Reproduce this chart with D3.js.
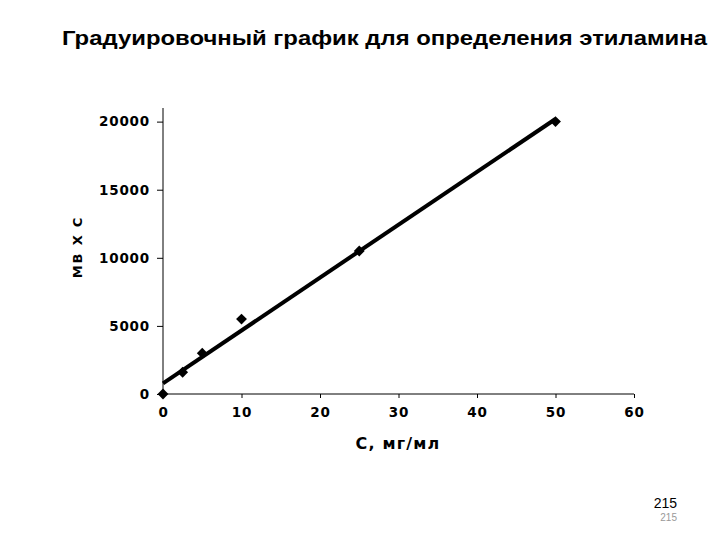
<!DOCTYPE html>
<html>
<head>
<meta charset="utf-8">
<script src="https://cdn.jsdelivr.net/npm/d3@7"></script>
<style>
  body { margin: 0; background: #fff; }
</style>
</head>
<body>
<script>
// calibration data
var concentrations = [0, 2.5, 5, 10, 25, 50];
var signal = [0, 1600, 3000, 5500, 10500, 20000];
var xTicks = [0, 10, 20, 30, 40, 50, 60];
var yTicks = [0, 5000, 10000, 15000, 20000];

var width = 720, height = 540;
var plotLeft = 163, plotRight = 634, plotTop = 108, plotBottom = 394;

var svg = d3.select("body").append("svg")
  .attr("width", width)
  .attr("height", height);

var x = d3.scaleLinear().domain([0, 60]).range([plotLeft, plotRight]);
var y = d3.scaleLinear().domain([0, 21000]).range([plotBottom, plotTop]);

// title (glyphs stretched a little, like the slide)
svg.append("text")
  .attr("x", 62).attr("y", 45)
  .attr("textLength", 645)
  .attr("lengthAdjust", "spacingAndGlyphs")
  .style("font-family", "Liberation Sans, Arial, sans-serif")
  .style("font-weight", "bold")
  .style("font-size", "21px")
  .text("Градуировочный график для определения этиламина");

// axes
var xAxis = svg.append("g")
  .attr("transform", "translate(0," + plotBottom + ")")
  .call(d3.axisBottom(x).tickValues(xTicks).tickSize(4).tickPadding(9).tickFormat(d3.format("d")));
var yAxis = svg.append("g")
  .attr("transform", "translate(" + plotLeft + ",0)")
  .call(d3.axisLeft(y).tickValues(yTicks).tickSize(6).tickPadding(7).tickFormat(d3.format("d")));

[xAxis, yAxis].forEach(function (g) {
  g.select(".domain").remove();
  g.selectAll("line").attr("stroke", "#000");
  g.selectAll("text")
    .style("font-family", "DejaVu Sans, Verdana, sans-serif")
    .style("font-weight", "bold")
    .style("font-size", "13.5px")
    .style("letter-spacing", "0.8px")
    .attr("fill", "#000");
});
svg.append("line").attr("x1", plotLeft).attr("x2", plotRight).attr("y1", plotBottom).attr("y2", plotBottom).attr("stroke", "#000");
svg.append("line").attr("x1", plotLeft).attr("x2", plotLeft).attr("y1", plotTop).attr("y2", plotBottom).attr("stroke", "#000");

// axis titles
svg.append("text")
  .attr("x", 398).attr("y", 449)
  .attr("text-anchor", "middle")
  .style("font-family", "DejaVu Sans, Verdana, sans-serif")
  .style("font-weight", "bold")
  .style("font-size", "16px")
  .style("letter-spacing", "1.2px")
  .text("С, мг/мл");

svg.append("text")
  .attr("transform", "translate(82,247) rotate(-90)")
  .attr("text-anchor", "middle")
  .style("font-family", "DejaVu Sans, Verdana, sans-serif")
  .style("font-weight", "bold")
  .style("font-size", "13px")
  .style("letter-spacing", "1.8px")
  .text("МВ Х С");

// linear trendline (least squares)
var mx = d3.mean(concentrations), my = d3.mean(signal);
var sxy = d3.sum(concentrations, function (c, i) { return (c - mx) * (signal[i] - my); });
var sxx = d3.sum(concentrations, function (c) { return (c - mx) * (c - mx); });
var slope = sxy / sxx, intercept = my - slope * mx;

svg.append("line")
  .attr("x1", x(0)).attr("y1", y(intercept))
  .attr("x2", x(50)).attr("y2", y(intercept + slope * 50))
  .attr("stroke", "#000")
  .attr("stroke-width", 4);

// markers
svg.selectAll(".pt")
  .data(concentrations)
  .enter().append("path")
  .attr("class", "pt")
  .attr("d", d3.symbol().type(d3.symbolDiamond2).size(75))
  .attr("transform", function (d, i) { return "translate(" + x(d) + "," + y(signal[i]) + ")"; })
  .attr("fill", "#000");

// page numbers
svg.append("text")
  .attr("x", 677).attr("y", 508)
  .attr("text-anchor", "end")
  .style("font-family", "Liberation Sans, Arial, sans-serif")
  .style("font-size", "14px")
  .text("215");
svg.append("text")
  .attr("x", 677).attr("y", 521)
  .attr("text-anchor", "end")
  .style("font-family", "Liberation Sans, Arial, sans-serif")
  .style("font-size", "10px")
  .attr("fill", "#999")
  .text("215");
</script>
</body>
</html>
